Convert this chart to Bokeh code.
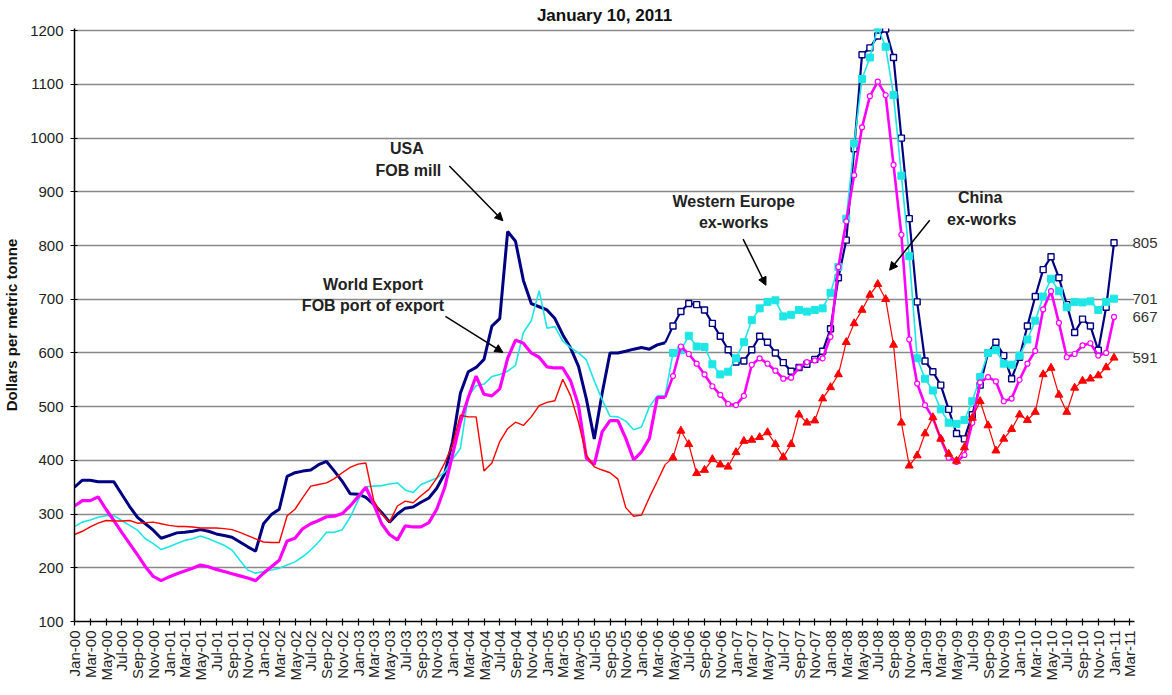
import math
from bokeh.plotting import figure
from bokeh.models import Range1d, Label, Arrow, NormalHead, FixedTicker, LinearAxis
from bokeh.embed import file_html
from bokeh.resources import INLINE

# ---------------- data (monthly, index 0 = Jan-2000) ----------------
MONTH_NAMES = ["Jan", "Feb", "Mar", "Apr", "May", "Jun",
               "Jul", "Aug", "Sep", "Oct", "Nov", "Dec"]
AXIS_MONTHS = 135          # Jan-00 .. Mar-11
SPLIT = 75                 # last month drawn as plain monthly line (Apr-06)
TITLE = "January 10, 2011"
Y_LABEL = "Dollars per metric tonne"

usa = [350, 363, 363, 360, 360, 360, 337, 314, 294, 282, 270, 255,
       260, 265, 266, 268, 271, 268, 263, 260, 257, 248, 239, 231,
       282, 299, 309, 370, 377, 380, 382, 392, 398, 380, 361, 338,
       337, 331, 318, 303, 285, 300, 311, 313, 322, 330, 348, 375,
       435, 525, 565, 573, 588, 650, 664, 826, 808, 735, 692, 686,
       680, 664, 634, 609, 575, 514, 440, 525, 600, 600, 603, 607,
       610, 607, 615, 619, 650, 677, 692, 690, 680, 655, 631, 606,
       583, 585, 606, 631, 620, 600, 582, 566, 573, 579, 588, 603,
       645, 740, 810, 980, 1155, 1168, 1190, 1203, 1150, 1000, 850, 695,
       585, 565, 540, 495, 450, 440, 485, 540, 600, 620, 595, 552,
       592, 650, 705, 755, 779, 740, 690, 638, 663, 650, 605, 685,
       805]

w_europe = [277, 285, 289, 294, 297, 297, 288, 279, 270, 254, 245, 234,
            239, 245, 251, 254, 259, 254, 248, 242, 233, 214, 196, 190,
            193, 196, 199, 205, 211, 221, 233, 248, 266, 266, 271, 294,
            325, 351, 352, 353, 356, 358, 345, 340, 355, 361, 367, 378,
            402, 422, 520, 539, 542, 556, 560, 566, 577, 638, 660, 716,
            646, 649, 622, 610, 600, 587, 548, 513, 482, 481, 473, 457,
            462, 500, 520, 520, 600, 605, 632, 612, 611, 579, 560, 565,
            590, 620, 661, 683, 695, 698, 668, 671, 680, 677, 680, 683,
            712, 760, 850, 990, 1110, 1150, 1206, 1170, 1080, 930, 780, 590,
            552, 530, 495, 470, 468, 475, 510, 555, 600, 605, 580, 578,
            595, 625, 660, 705, 738, 715, 685, 695, 694, 696, 680, 695,
            701]

world_export = [315, 325, 325, 332, 309, 288, 266, 245, 224, 202, 184, 176,
                183, 189, 194, 199, 205, 202, 197, 193, 189, 185, 181, 176,
                190, 202, 214, 250, 255, 273, 282, 288, 295, 296, 301, 315,
                332, 350, 318, 282, 262, 252, 278, 276, 276, 284, 309, 349,
                410, 471, 517, 557, 523, 520, 533, 590, 624, 618, 600, 592,
                574, 572, 572, 548, 502, 404, 392, 453, 474, 474, 441, 401,
                416, 441, 517, 517, 557, 612, 598, 580, 560, 538, 522, 505,
                503, 520, 578, 590, 580, 567, 552, 554, 573, 583, 586, 590,
                630, 760, 845, 931, 1020, 1078, 1105, 1080, 950, 820, 625, 543,
                503, 479, 440, 405, 397, 410, 470, 545, 555, 547, 510, 515,
                550, 580, 604, 681, 715, 656, 592, 598, 614, 618, 595, 600,
                667]

china = [262, 268, 276, 283, 288, 287, 287, 288, 283, 284, 285, 282,
         279, 277, 277, 276, 274, 274, 274, 273, 271, 266, 260, 254,
         248, 247, 247, 297, 309, 331, 352, 355, 358, 366, 377, 387,
         393, 395, 325, 300, 285, 315, 324, 321, 334, 346, 367, 395,
         429, 484, 481, 481, 380, 395, 435, 459, 471, 465, 481, 502,
         508, 511, 551, 520, 471, 410, 388, 382, 377, 365, 312, 296,
         298, 331, 361, 392, 405, 455, 430, 376, 382, 402, 392, 388,
         415, 436, 438, 443, 452, 430, 406, 430, 485, 470, 474, 515,
         536, 560, 620, 655, 680, 708, 728, 700, 615, 470, 390, 409,
         450, 480, 440, 412, 399, 424, 479, 510, 465, 418, 440, 458,
         485, 475, 490, 560, 572, 522, 490, 535, 548, 552, 558, 573,
         591]

months = list(range(len(usa)))

# ---------------- annotation layout (data units) ----------------
callouts = [("USA", 42.2, 981), ("FOB mill", 42.4, 940),
            ("World Export", 37.9, 727), ("FOB port of export", 37.9, 689),
            ("Western Europe", 83.7, 882), ("ex-works", 83.7, 842),
            ("China", 115.0, 889), ("ex-works", 115.2, 849)]
arrows = [(47.6, 948, 54.4, 846),
          (47.1, 668, 54.4, 601),
          (84.9, 812, 87.8, 726),
          (108.6, 847, 103.5, 754)]

FONT = "Liberation Sans"
NAVY, CYAN, MAGENTA, RED = "#000080", "#1EE6E6", "#FF00FF", "#FF0000"

p = figure(width=1160, height=684,
           x_range=Range1d(0, 134.6), y_range=Range1d(100, 1204),
           output_backend="svg", toolbar_location=None,
           min_border_left=70, min_border_right=25,
           min_border_top=0, min_border_bottom=63)
p.outline_line_color = None
p.background_fill_color = "white"
p.border_fill_color = "white"

# title
p.title.text = TITLE
p.title.align = "center"
p.title.offset = -24
p.title.standoff = 7
p.title.text_font = FONT
p.title.text_font_size = "17px"
p.title.text_font_style = "bold"
p.title.text_color = "#111111"

# axes
p.xaxis.ticker = FixedTicker(ticks=list(range(0, AXIS_MONTHS, 2)))
p.xaxis.major_label_overrides = {
    i: f"{MONTH_NAMES[i % 12]}-{(i // 12) % 100:02d}" for i in range(0, AXIS_MONTHS, 2)}
p.xaxis.major_label_orientation = math.pi / 2
p.yaxis.ticker = FixedTicker(ticks=list(range(100, 1201, 100)))
for ax in (p.xaxis[0], p.yaxis[0]):
    ax.axis_line_color = "black"
    ax.axis_line_width = 1.5
    ax.major_tick_line_color = "black"
    ax.major_tick_line_width = 1.2
    ax.major_tick_in = 3
    ax.major_tick_out = 4
    ax.minor_tick_line_color = None
    ax.major_label_text_font = FONT
    ax.major_label_text_font_size = "15px"
    ax.major_label_text_color = "#222222"
p.xaxis.major_label_standoff = 5
p.yaxis.major_label_standoff = 7
p.yaxis.axis_label = Y_LABEL
p.yaxis.axis_label_text_font = FONT
p.yaxis.axis_label_text_font_style = "bold"
p.yaxis.axis_label_text_font_size = "15px"
p.yaxis.axis_label_text_color = "#111111"
p.yaxis.axis_label_standoff = 7

# end-value labels at the right of the plot, placed at each series' last value
end_values = [usa[-1], w_europe[-1], world_export[-1], china[-1]]
right_axis = LinearAxis(ticker=FixedTicker(ticks=end_values),
                        major_label_overrides={v: str(v) for v in end_values},
                        axis_line_color=None, major_tick_line_color=None,
                        minor_tick_line_color=None, major_tick_out=0,
                        major_tick_in=0, major_label_standoff=-2,
                        major_label_text_font=FONT,
                        major_label_text_font_size="15px",
                        major_label_text_color="#333333")
p.add_layout(right_axis, "right")

p.xgrid.visible = False
p.ygrid.ticker = FixedTicker(ticks=list(range(200, 1201, 100)))
p.ygrid.grid_line_color = "#8a8a8a"
p.ygrid.grid_line_width = 1.3

a, b = SPLIT + 1, SPLIT
# USA FOB mill
p.line(months[:a], usa[:a], line_color=NAVY, line_width=3)
p.line(months[b:], usa[b:], line_color=NAVY, line_width=2.2)
p.scatter(months[a:], usa[a:], marker="square", size=6,
          fill_color="white", line_color=NAVY, line_width=1.4)
# Western Europe ex-works
p.line(months[:a], w_europe[:a], line_color=CYAN, line_width=1.6)
p.line(months[b:], w_europe[b:], line_color=CYAN, line_width=1.6)
p.scatter(months[a:], w_europe[a:], marker="square", size=7,
          fill_color=CYAN, line_color=CYAN)
# World Export FOB port of export
p.line(months[:a], world_export[:a], line_color=MAGENTA, line_width=3.2)
p.line(months[b:], world_export[b:], line_color=MAGENTA, line_width=2.6)
p.scatter(months[a:], world_export[a:], marker="circle", size=5,
          fill_color="white", line_color=MAGENTA, line_width=1.2)
# China ex-works
p.line(months[:a], china[:a], line_color=RED, line_width=1.4)
p.line(months[b:], china[b:], line_color=RED, line_width=1.2)
p.scatter(months[a:], china[a:], marker="triangle", size=8,
          fill_color=RED, line_color=RED)

# callout texts and arrows
for txt, x, y in callouts:
    p.add_layout(Label(x=x, y=y, text=txt, text_font=FONT,
                       text_font_size="16px", text_font_style="bold",
                       text_color="#222222", text_align="center",
                       text_baseline="middle"))
for x0, y0, x1, y1 in arrows:
    p.add_layout(Arrow(end=NormalHead(size=8, fill_color="black",
                                      line_color="black", line_width=1),
                       x_start=x0, y_start=y0, x_end=x1, y_end=y1,
                       line_color="black", line_width=1.5))

open("out.html", "w").write(file_html(p, INLINE))
